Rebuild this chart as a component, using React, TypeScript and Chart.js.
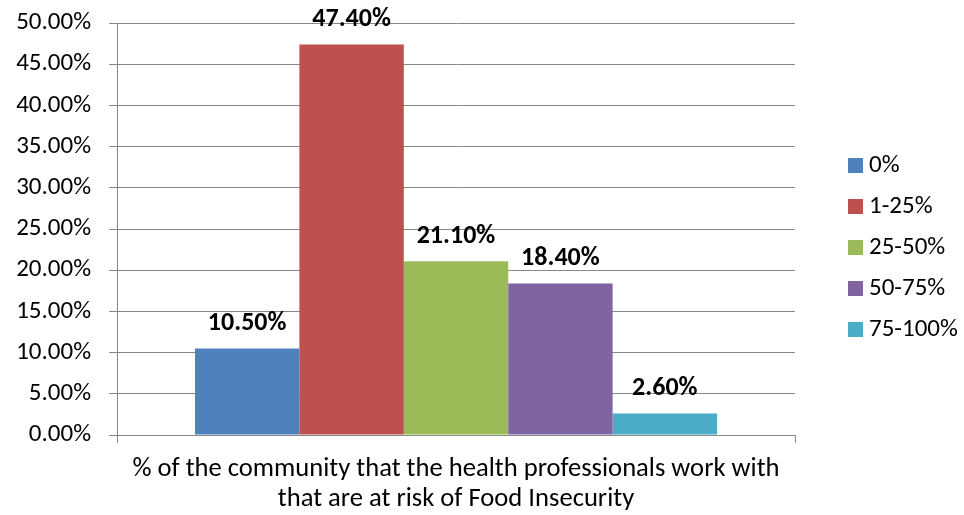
import React, { useEffect, useRef } from "react";
import { Chart, registerables } from "chart.js";

Chart.register(...registerables);

const categories = [[
  "% of the community that the health professionals work with",
  "that are at risk of Food Insecurity",
]];
const seriesNames = ["0%", "1-25%", "25-50%", "50-75%", "75-100%"];
const seriesValues = [10.5, 47.4, 21.1, 18.4, 2.6];
const seriesColors = ["#4F81BD", "#C0504D", "#9BBB59", "#8064A2", "#4BACC6"];
const yMin = 0;
const yMax = 50;
const yStep = 5;

const FONT = "Carlito, Calibri, 'Open Sans', sans-serif";
const GRID = "#888888";

const legendPlugin = {
  id: "customLegend",
  afterDraw(chart: any) {
    const ctx = chart.ctx;
    ctx.save();
    ctx.font = `25px ${FONT}`;
    ctx.textBaseline = "middle";
    ctx.textAlign = "left";
    chart.data.datasets.forEach((ds: any, i: number) => {
      const cy = 165 + i * 41;
      ctx.fillStyle = ds.backgroundColor;
      ctx.fillRect(848, cy - 7, 15, 15);
      ctx.fillStyle = "#000";
      ctx.fillText(ds.label, 869, cy + 1);
    });
    ctx.restore();
  },
};

const dataLabelPlugin = {
  id: "dataLabels",
  afterDatasetsDraw(chart: any) {
    const ctx = chart.ctx;
    ctx.save();
    ctx.font = `bold 26px ${FONT}`;
    ctx.textAlign = "center";
    ctx.textBaseline = "middle";
    ctx.fillStyle = "#000";
    chart.data.datasets.forEach((ds: any, i: number) => {
      const meta = chart.getDatasetMeta(i);
      const el = meta.data[0];
      if (!el) return;
      ctx.fillText(ds.data[0].toFixed(2) + "%", el.x, el.y - 25);
    });
    ctx.restore();
  },
};

export default function App() {
  const ref = useRef<HTMLCanvasElement>(null);
  useEffect(() => {
    if (!ref.current) return;
    const chart = new Chart(ref.current, {
      type: "bar",
      data: {
        labels: categories as any,
        datasets: seriesNames.map((name, i) => ({
          label: name,
          data: [seriesValues[i]],
          backgroundColor: seriesColors[i],
          borderWidth: 0,
          categoryPercentage: 0.77,
          barPercentage: 1,
        })),
      },
      options: {
        animation: false,
        responsive: false,
        maintainAspectRatio: false,
        layout: { padding: { top: 23, right: 169, left: 0, bottom: 0 } },
        plugins: {
          legend: { display: false },
          tooltip: { enabled: false },
        },
        scales: {
          x: {
            offset: true,
            grid: {
              offset: true,
              drawOnChartArea: false,
              drawTicks: true,
              tickLength: 8,
              color: GRID,
            },
            border: { color: GRID },
            ticks: {
              color: "#000",
              font: { family: FONT, size: 26.6, lineHeight: 1.1 },
              padding: 12,
              maxRotation: 0,
              autoSkip: false,
            },
            afterFit(scale: any) {
              scale.height = 80;
              scale.paddingLeft = 0;
              scale.paddingRight = 0;
            },
          },
          y: {
            min: yMin,
            max: yMax,
            grid: { color: GRID, tickLength: 8, drawTicks: true },
            border: { color: GRID },
            ticks: {
              stepSize: yStep,
              color: "#000",
              font: { family: FONT, size: 25 },
              padding: 18,
              callback: (v: any) => Number(v).toFixed(2) + "%",
            },
            afterFit(scale: any) {
              scale.width = 117;
              scale.paddingTop = 0;
              scale.paddingBottom = 0;
            },
          },
        },
      },
      plugins: [legendPlugin, dataLabelPlugin],
    });
    return () => chart.destroy();
  }, []);
  return (
    <div style={{ position: "fixed", left: 0, top: 0, width: 964, height: 515, background: "#fff" }}>
      <canvas ref={ref} width={964} height={515} />
    </div>
  );
}
